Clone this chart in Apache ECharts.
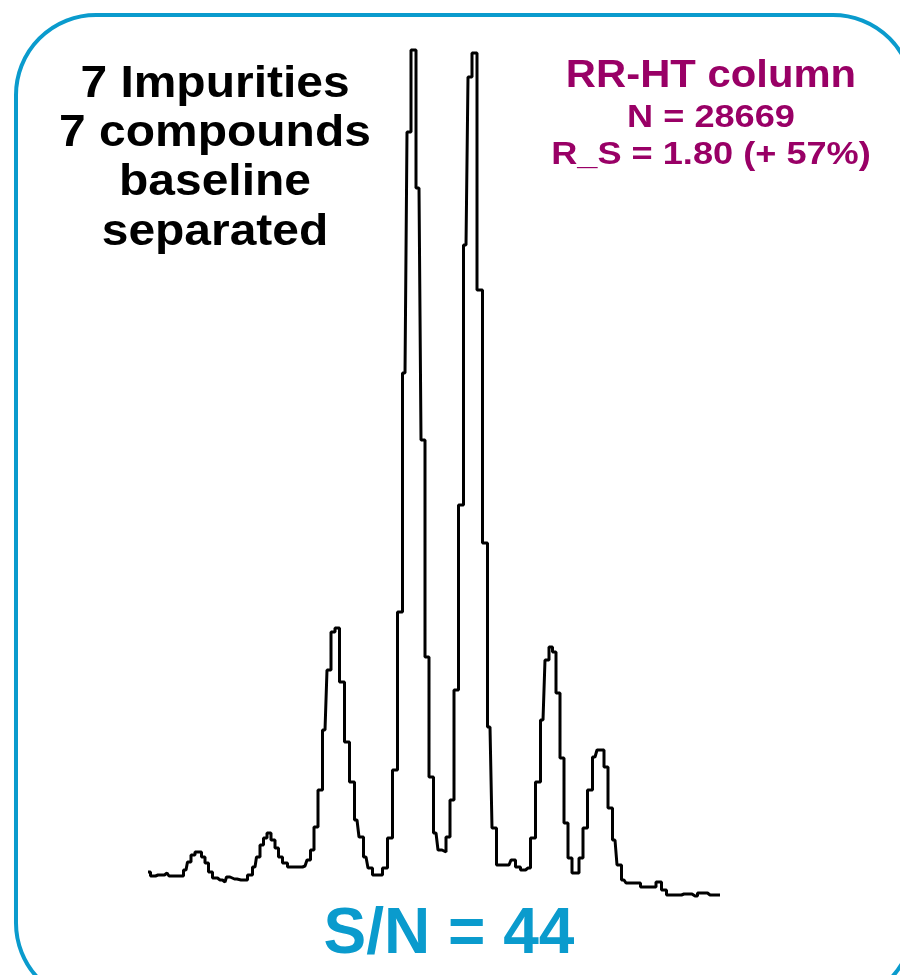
<!DOCTYPE html>
<html>
<head>
<meta charset="utf-8">
<script src="https://cdn.jsdelivr.net/npm/echarts@6/dist/echarts.min.js"></script>
<style>html,body{margin:0;padding:0;background:#fff}#chart{width:900px;height:975px}</style>
</head>
<body>
<div id="chart"></div>
<script>
// Retention time (min) and detector signal (mAU)
const retentionTime = [0.00,0.05,0.10,0.14,0.19,0.23,0.28,0.33,0.38,0.41,0.45,0.49,0.52,0.55,0.59,0.62,0.67,0.72,0.77,0.80,0.84,0.89,0.93,0.97,1.02,1.07,1.10,1.14,1.17,1.21,1.25,1.29,1.32,1.37,1.42,1.47,1.52,1.57,1.61,1.64,1.68,1.72,1.77,1.81,1.85,1.89,1.94,1.99,2.04,2.09,2.13,2.18,2.22,2.27,2.32,2.37,2.42,2.47,2.52,2.57,2.61,2.65,2.71,2.75,2.79,2.83,2.88,2.92,2.96,3.00,3.04,3.08,3.13,3.18,3.22,3.26,3.32,3.37,3.42,3.46,3.51,3.56,3.61,3.65,3.70,3.75,3.80,3.85,3.90,3.95,3.99,4.03,4.06,4.10,4.14,4.18,4.22,4.26,4.29,4.33,4.37,4.42,4.47,4.51,4.54,4.58,4.62,4.67,4.71,4.76,4.80,4.85,4.90,4.95,5.00,5.05,5.11,5.16,5.21,5.26,5.31,5.36,5.41,5.47,5.52,5.57,5.62,5.67,5.72];
const signal = [2.8,2.4,2.5,2.5,2.7,2.4,2.4,2.4,3.0,3.8,4.5,4.8,4.8,4.3,3.7,2.8,2.2,2.0,1.8,2.3,2.1,2.1,2.0,2.0,2.5,3.3,4.3,5.5,6.2,6.7,6.0,5.2,4.3,3.7,3.3,3.3,3.3,3.4,4.0,5.0,7.3,11.0,17.0,23.0,26.8,27.2,21.8,15.8,11.8,8.0,6.3,4.3,3.2,2.5,2.5,3.2,6.2,13.0,28.8,52.7,76.8,85.0,71.2,46.0,24.3,12.3,6.7,5.0,4.8,6.3,10.0,21.0,39.5,65.5,82.3,84.7,61.0,35.7,17.3,7.2,3.5,3.5,3.5,4.0,3.3,3.0,3.2,6.2,11.8,18.0,24.0,25.3,24.8,20.7,14.2,7.7,4.2,2.7,2.7,4.2,7.2,11.0,14.3,15.0,15.0,13.3,9.2,6.0,3.5,2.0,1.7,1.7,1.7,1.3,1.3,1.3,1.8,1.0,0.5,0.5,0.5,0.6,0.6,0.4,0.7,0.7,0.5,0.5,0.5];

const leftLabel = ['7 Impurities', '7 compounds', 'baseline', 'separated'];
const rightLabel = ['RR-HT column', 'N = 28669', 'R_S = 1.80 (+ 57%)'];
const bottomLabel = 'S/N = 44';

const chart = echarts.init(document.getElementById('chart'));
const FONT = '"Liberation Sans", Arial, sans-serif';
const BLUE = '#0a9bcd';
const PURPLE = '#990066';

const graphics = [
  {
    type: 'rect', z: 10,
    shape: { x: 16, y: 15, width: 897, height: 988, r: 80 },
    style: { fill: 'none', stroke: BLUE, lineWidth: 4 }
  }
];
const leftY = [85, 134, 183, 233];
leftLabel.forEach((t, i) => graphics.push({
  type: 'text', x: 215, y: leftY[i], scaleX: 1.09, z: 20,
  style: { text: t, x: 0, y: 0, align: 'center', verticalAlign: 'middle', font: 'bold 44px ' + FONT, fill: '#000' }
}));
const rightY = [77, 118, 155];
const rightSize = [38, 32, 32];
const rightScale = [1.1, 1.13, 1.13];
rightLabel.forEach((t, i) => graphics.push({
  type: 'text', x: 711, y: rightY[i], scaleX: rightScale[i], z: 20,
  style: { text: t, x: 0, y: 0, align: 'center', verticalAlign: 'middle', font: 'bold ' + rightSize[i] + 'px ' + FONT, fill: PURPLE }
}));
graphics.push({
  type: 'text', x: 449, y: 935, z: 20,
  style: { text: bottomLabel, x: 0, y: 0, align: 'center', verticalAlign: 'middle', font: 'bold 64px ' + FONT, fill: BLUE }
});

chart.setOption({
  animation: false,
  backgroundColor: '#fff',
  grid: { left: 148, right: 180, top: 40, bottom: 75 },
  xAxis: { type: 'value', min: 0, max: 5.72, show: false },
  yAxis: { type: 'value', min: 0, max: 86, show: false },
  series: [{
    type: 'line',
    step: 'middle',
    showSymbol: false,
    data: retentionTime.map((t, i) => [t, signal[i]]),
    lineStyle: { color: '#000', width: 3 },
    itemStyle: { color: '#000' }
  }],
  graphic: graphics
});
</script>
</body>
</html>
